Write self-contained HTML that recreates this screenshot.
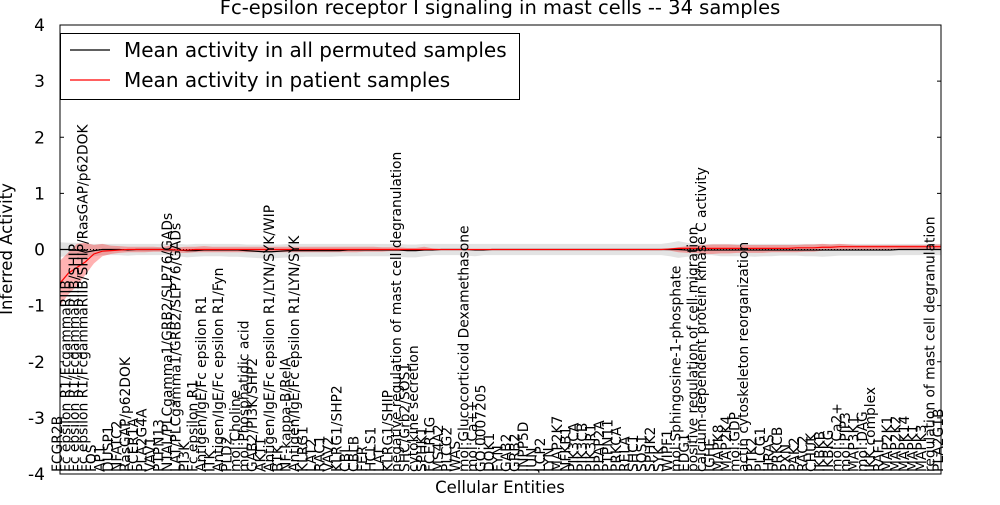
<!DOCTYPE html>
<html><head><meta charset="utf-8"><style>
body{margin:0;background:#fff;}
svg text{font-family:"DejaVu Sans","Liberation Sans",sans-serif;}
</style></head><body>
<svg id="chart" width="1000" height="500" xmlns="http://www.w3.org/2000/svg">
<rect width="1000" height="500" fill="#fff"/>
<text x="500" y="14" font-size="19.5" text-anchor="middle">Fc-epsilon receptor I signaling in mast cells -- 34 samples</text>
<text x="500" y="493" font-size="16.5" text-anchor="middle">Cellular Entities</text>
<text transform="translate(12,249) rotate(-90)" font-size="16.5" text-anchor="middle">Inferred Activity</text>
<g id="bands"></g>
<g id="lines"></g>
<g id="labels"></g>
<g id="yaxis"></g>
<rect x="60" y="25" width="881" height="449" fill="none" stroke="#000" stroke-width="1"/>
<g>
<rect x="60.5" y="33.5" width="459" height="66" fill="#fff" stroke="#000"/>
<line x1="70" y1="50" x2="110" y2="50" stroke="#000" stroke-width="1.2"/>
<text x="124" y="57" font-size="20">Mean activity in all permuted samples</text>
<line x1="70" y1="80" x2="110" y2="80" stroke="#f00" stroke-width="1.2"/>
<text x="124" y="87" font-size="20">Mean activity in patient samples</text>
</g>
</svg>
<script>
const categories = ["FCGR2B","Fc epsilon R1/FcgammaRIIB","Fc epsilon R1/FcgammaRIIB/SHIP","Fc epsilon R1/FcgammaRIIB/SHIP/RasGAP/p62DOK","FOS","AP1","DUSP1","NFATC2","RasGAP/p62DOK","FCER1A","PLA2G4A","VAV1","PTPN13","NTAL/PLCgamma1/GRB2/SLP76/GADs","LAT/PLCgamma1/GRB2/SLP76/GADs","PI3K","Fc epsilon R1","Antigen/IgE/Fc epsilon R1","ITK","Antigen/IgE/Fc epsilon R1/Fyn","PLD2","mol:Choline","mol:Phosphatidic acid","GAB2/PI3K/SHP2","AKT1","Antigen/IgE/Fc epsilon R1/LYN/SYK/WIP","BTK","NF-kappa-B/RelA","Antigen/IgE/Fc epsilon R1/LYN/SYK","KLRG1","LAT2","RAC1","VAV2","KLRG1/SHP2","CBL","CBLB","FER","HCLS1","LAT","KLRG1/SHIP","negative regulation of mast cell degranulation","SHC/Grb2/SOS1","cytokine secretion","SPHK1","FCER1G","MS4A2","PLCG2","WAS","mol:Glucocorticoid Dexamethasone","mol:Ca++","GO:0007205","DOK1","FYN","GAB2","GRB2","INPP5D","JUN","LCP2","LYN","MAP2K7","NFKB1","PIK3CA","PIK3CB","PIK3R1","PPAP2A","PTPN11","PRKCA","RELA","SHC1","SOS1","SPHK2","SYK","WIPF1","mol:Sphingosine-1-phosphate","EDG1","positive regulation of cell migration","calcium-dependent protein kinase C activity","IGHE","MAPK8","MAP2K4","mol:GDP","actin cytoskeleton reorganization","PTK2","PLCG1","HRAS","PRKCB","PXN","PAK2","RAC2","CHUK","IKBKB","IKBKG","mol:Ca2+","mol:PIP3","MAP3K1","mol:DAG","IKK complex","RAF1","MAP2K1","MAP2K2","MAPK14","MAPK1","MAPK3","regulation of mast cell degranulation","PLA2G1B"];
const patientMean = [-0.6,-0.42,-0.32,-0.22,-0.08,-0.03,-0.02,-0.01,0,0, 0,0,0,0,-0.01,-0.01,0,0,0,0, 0,0,0,0,0,0,0,0,0,0, 0,0,0,0,0,0,0,0,0,0, 0,0,0,0,0,0,0,0,0,0, 0,0,0,0,0,0,0,0,0,0, 0,0,0,0,0,0,0,0,0,0, 0,0,0.01,0.02,0.02,0.02,0.02,0.02,0.02,0.02, 0.02,0.02,0.02,0.02,0.02,0.02,0.02,0.03,0.03,0.03, 0.04,0.04,0.05,0.05,0.05,0.05,0.05,0.05,0.05,0.05, 0.05,0.05,0.05,0.05,0.05,0.05];
const patientLow = [-1.0,-0.8,-0.65,-0.45,-0.25,-0.12,-0.08,-0.06,-0.05,-0.05, -0.05,-0.04,-0.04,-0.05,-0.06,-0.06,-0.05,-0.05,-0.05,-0.05, -0.05,-0.05,-0.05,-0.05,-0.05,-0.05,-0.05,-0.05,-0.05,-0.05, -0.05,-0.05,-0.05,-0.05,-0.05,-0.05,-0.04,-0.04,-0.04,-0.03, -0.03,-0.02,-0.02,-0.02,-0.01,-0.01,-0.01,-0.01,-0.01,-0.01, -0.01,-0.01,-0.01,-0.01,-0.01,-0.01,-0.01,-0.01,-0.01,-0.01, -0.01,-0.01,-0.01,-0.01,-0.01,-0.01,-0.01,-0.01,-0.01,-0.01, -0.01,-0.01,-0.02,-0.05,-0.06,-0.06,-0.08,-0.08,-0.07,-0.07, -0.06,-0.06,-0.06,-0.06,-0.05,-0.05,-0.05,-0.05,-0.04,-0.04, -0.02,-0.01,0,0,0,0,0,0,0,0, 0,0,0,0,0,0];
const patientHigh = [-0.2,-0.05,0.1,0.12,0.08,0.1,0.07,0.06,0.05,0.05, 0.05,0.05,0.04,0.07,0.04,0.05,0.05,0.06,0.05,0.05, 0.05,0.05,0.05,0.05,0.05,0.05,0.05,0.05,0.05,0.05, 0.05,0.05,0.05,0.05,0.05,0.05,0.05,0.05,0.04,0.04, 0.04,0.03,0.03,0.05,0.02,0.01,0.01,0.01,0.01,0.01, 0.01,0.01,0.01,0.01,0.01,0.01,0.01,0.01,0.01,0.01, 0.01,0.01,0.01,0.01,0.01,0.01,0.01,0.01,0.01,0.01, 0.01,0.01,0.02,0.04,0.06,0.07,0.08,0.09,0.09,0.09, 0.08,0.08,0.08,0.08,0.08,0.08,0.08,0.08,0.09,0.09, 0.1,0.09,0.1,0.09,0.08,0.08,0.08,0.08,0.08,0.08, 0.08,0.08,0.08,0.09,0.09,0.09];
const permutedMean = [0,0,-0.01,-0.05,-0.02,0,0,0,-0.01,0, 0,0,0,-0.01,-0.01,-0.02,-0.02,-0.01,-0.01,-0.01, -0.01,-0.01,-0.02,-0.03,-0.04,-0.04,-0.03,-0.02,-0.02,-0.02, -0.02,-0.02,-0.02,-0.02,-0.01,-0.01,-0.01,-0.01,-0.01,-0.01, -0.01,-0.02,-0.02,-0.01,-0.01,0,0,0,0,-0.01, -0.01,0,0,0,0,0,0,0,0,0, 0,0,0,0,0,0,0,0,0,0, 0,0,0,0,-0.01,-0.01,-0.01,-0.01,-0.01,-0.01, -0.01,-0.01,-0.01,-0.01,-0.01,-0.01,-0.01,-0.01,-0.01,-0.01, -0.01,-0.01,-0.01,-0.01,-0.01,-0.01,-0.01,-0.01,-0.01,0, 0,0,0,0,0,0];
const permutedLow = [-0.13,-0.12,-0.12,-0.14,-0.12,-0.1,-0.1,-0.1,-0.11,-0.1, -0.1,-0.1,-0.1,-0.1,-0.12,-0.14,-0.13,-0.12,-0.12,-0.12, -0.13,-0.13,-0.14,-0.15,-0.16,-0.16,-0.15,-0.14,-0.14,-0.13, -0.13,-0.13,-0.13,-0.12,-0.12,-0.12,-0.12,-0.12,-0.12,-0.12, -0.13,-0.14,-0.14,-0.12,-0.1,-0.1,-0.1,-0.1,-0.11,-0.12, -0.1,-0.1,-0.1,-0.1,-0.1,-0.1,-0.1,-0.1,-0.1,-0.1, -0.1,-0.1,-0.1,-0.1,-0.1,-0.1,-0.1,-0.1,-0.1,-0.1, -0.1,-0.1,-0.12,-0.15,-0.13,-0.12,-0.1,-0.1,-0.12,-0.12, -0.12,-0.12,-0.13,-0.12,-0.12,-0.11,-0.11,-0.11,-0.12,-0.12, -0.13,-0.12,-0.11,-0.11,-0.11,-0.11,-0.11,-0.11,-0.11,-0.1, -0.1,-0.1,-0.1,-0.1,-0.1,-0.1];
const permutedHigh = [0.13,0.12,0.12,0.1,0.1,0.1,0.1,0.1,0.1,0.1, 0.1,0.1,0.1,0.1,0.1,0.09,0.1,0.1,0.1,0.1, 0.1,0.1,0.09,0.09,0.09,0.09,0.09,0.1,0.1,0.1, 0.1,0.1,0.1,0.1,0.1,0.1,0.1,0.1,0.1,0.1, 0.1,0.09,0.09,0.1,0.1,0.1,0.1,0.1,0.1,0.1, 0.1,0.1,0.1,0.1,0.1,0.1,0.1,0.1,0.1,0.1, 0.1,0.1,0.1,0.1,0.1,0.1,0.1,0.1,0.1,0.1, 0.1,0.1,0.12,0.15,0.12,0.1,0.09,0.1,0.1,0.1, 0.1,0.1,0.1,0.1,0.1,0.1,0.1,0.1,0.1,0.1, 0.1,0.1,0.1,0.1,0.1,0.1,0.1,0.1,0.1,0.1, 0.1,0.1,0.1,0.1,0.1,0.1];
const yTicks = [-4,-3,-2,-1,0,1,2,3,4];

const NS = "http://www.w3.org/2000/svg";
const X0 = 60, X1 = 941, Y0 = 474, Y1 = 25;
const N = categories.length;
function xPos(i){ return X0 + i * (X1 - X0) / (N - 1); }
function yPos(v){ return Y0 - (v + 4) * (Y0 - Y1) / 8; }
function mk(tag, attrs, parent){ const e = document.createElementNS(NS, tag); for (const k in attrs) e.setAttribute(k, attrs[k]); parent.appendChild(e); return e; }
function bandPath(lo, hi){
  const n = Math.min(N, lo.length, hi.length);
  let d = "";
  for (let i = 0; i < n; i++) d += (i ? "L" : "M") + xPos(i).toFixed(2) + "," + yPos(hi[i]).toFixed(2);
  for (let i = n - 1; i >= 0; i--) d += "L" + xPos(i).toFixed(2) + "," + yPos(lo[i]).toFixed(2);
  return d + "Z";
}
function linePath(arr){ return arr.slice(0, N).map((v,i)=>(i ? "L" : "M") + xPos(i).toFixed(2) + "," + yPos(v).toFixed(2)).join(""); }

const bands = document.getElementById("bands");
const gb = mk("path", {d: bandPath(permutedLow, permutedHigh), fill: "#c8c8c8", "fill-opacity": "0.5", stroke: "none"}, bands);


const rb = mk("path", {d: bandPath(patientLow, patientHigh), fill: "#f00", "fill-opacity": "0.3", stroke: "none"}, bands);



const lines = document.getElementById("lines");
const zl = mk("line", {x1: X0, x2: X1, y1: yPos(0), y2: yPos(0), stroke: "#000", "stroke-dasharray": "1,2", "stroke-width": "1"}, lines);


const bl = mk("path", {d: linePath(permutedMean), fill: "none", stroke: "#000", "stroke-width": "1.2"}, lines);


const rl = mk("path", {d: linePath(patientMean), fill: "none", stroke: "#f00", "stroke-width": "1.2"}, lines);



const labels = document.getElementById("labels");
categories.forEach((c,i)=>{
  const x = xPos(i) + 2;
  const t = mk("text", {transform: "translate(" + x.toFixed(2) + ",472) rotate(-90)", "font-size": "13.8"}, labels);
  t.textContent = c;
  
  
});

const ya = document.getElementById("yaxis");
yTicks.forEach(v=>{
  const y = yPos(v);
  const t = mk("text", {x: 45, y: y + 6, "font-size": "17", "text-anchor": "end"}, ya);
  t.textContent = String(v);
  
  
  const l1 = mk("line", {x1: X0, x2: X0 + 4, y1: y, y2: y, stroke: "#000"}, ya);
  
  
  const l2 = mk("line", {x1: X1 - 4, x2: X1, y1: y, y2: y, stroke: "#000"}, ya);
  
  
});
</script>
</body></html>
